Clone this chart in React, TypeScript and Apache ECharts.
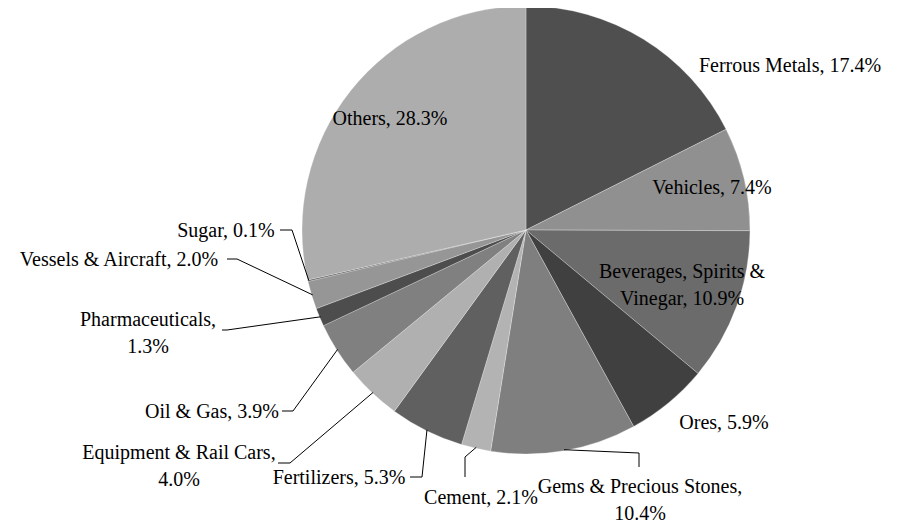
import React, { useEffect, useRef } from "react";
import * as echarts from "echarts";

const categories = [
  "Ferrous Metals",
  "Vehicles",
  "Beverages, Spirits & Vinegar",
  "Ores",
  "Gems & Precious Stones",
  "Cement",
  "Fertilizers",
  "Equipment & Rail Cars",
  "Oil & Gas",
  "Pharmaceuticals",
  "Vessels & Aircraft",
  "Sugar",
  "Others",
];
const shares = [17.4, 7.4, 10.9, 5.9, 10.4, 2.1, 5.3, 4.0, 3.9, 1.3, 2.0, 0.1, 28.3];

const sliceColors = [
  "#4f4f4f", "#909090", "#6b6b6b", "#404040", "#7f7f7f", "#b3b3b3", "#606060",
  "#b0b0b0", "#808080", "#4d4d4d", "#969696", "#5a5a5a", "#adadad",
];

// label text line breaks (display only)
const labelTexts = [
  "Ferrous Metals, {v}",
  "Vehicles, {v}",
  "Beverages, Spirits &\nVinegar, {v}",
  "Ores, {v}",
  "Gems & Precious Stones,\n{v}",
  "Cement, {v}",
  "Fertilizers, {v}",
  "Equipment & Rail Cars,\n{v}",
  "Oil & Gas, {v}",
  "Pharmaceuticals,\n{v}",
  "Vessels & Aircraft, {v}",
  "Sugar, {v}",
  "Others, {v}",
];

// label placement (layout only): centre of label block, optional leader elbow + end
const labelLayoutTable: { x: number; y: number; line?: number[][] }[] = [
  { x: 790, y: 65 },
  { x: 712, y: 187 },
  { x: 682, y: 284 },
  { x: 724, y: 422 },
  { x: 640, y: 499, line: [[639, 453], [639, 467]] },
  { x: 481, y: 497, line: [[465, 457], [465, 477]] },
  { x: 339, y: 477, line: [[422, 477], [410, 477]] },
  { x: 179, y: 465, line: [[290, 463], [278, 463]] },
  { x: 212, y: 411, line: [[293, 411], [282, 411]] },
  { x: 148, y: 332, line: [[227, 330], [222, 330]] },
  { x: 119, y: 259, line: [[237, 259], [227, 259]] },
  { x: 226, y: 230, line: [[292, 230], [280, 230]] },
  { x: 390, y: 118 },
];

const CX = 526;
const CY = 230;
const R = 224;
const FONT = "20px Times New Roman";
const LINE_H = 27;

export default function App() {
  const ref = useRef<HTMLDivElement>(null);
  useEffect(() => {
    if (!ref.current) return;
    const chart = echarts.init(ref.current, null, { renderer: "svg" });

    const total = shares.reduce((a, b) => a + b, 0);
    let cum = 0;
    const graphics: any[] = [];
    shares.forEach((v, i) => {
      const mid = (cum + v / 2) / total;
      cum += v;
      const L = labelLayoutTable[i];
      const lines = labelTexts[i].replace("{v}", v.toFixed(1) + "%").split("\n");
      if (L.line) {
        const th = mid * Math.PI * 2;
        const edge = [CX + (R - 1) * Math.sin(th), CY - (R - 1) * Math.cos(th)];
        graphics.push({
          type: "polyline",
          silent: true,
          z: 10,
          shape: { points: [edge, ...L.line] },
          style: { stroke: "#000", lineWidth: 1, fill: null },
        });
      }
      lines.forEach((s, k) => {
        graphics.push({
          type: "text",
          z: 11,
          x: L.x,
          y: L.y + (k - (lines.length - 1) / 2) * LINE_H,
          style: {
            text: s,
            font: FONT,
            fill: "#000",
            align: "center",
            verticalAlign: "middle",
          },
        });
      });
    });

    chart.setOption({
      animation: false,
      series: [
        {
          type: "pie",
          center: [CX, CY],
          radius: R,
          startAngle: 90,
          clockwise: true,
          avoidLabelOverlap: false,
          itemStyle: { borderColor: "rgba(255,255,255,0.45)", borderWidth: 0.6 },
          label: { show: false },
          labelLine: { show: false },
          emphasis: { disabled: true },
          data: categories.map((name, i) => ({
            name,
            value: shares[i],
            itemStyle: { color: sliceColors[i] },
          })),
        },
      ],
      graphic: graphics,
    });
    return () => chart.dispose();
  }, []);
  return <div ref={ref} style={{ width: 910, height: 521, marginLeft: -8, marginTop: -8 }} />;
}
